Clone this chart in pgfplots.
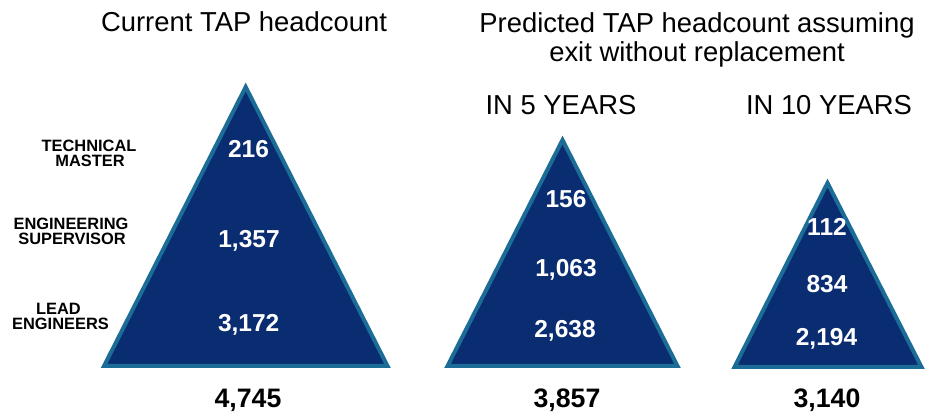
\documentclass[border=0pt]{standalone}
\usepackage{pgfplots}
\usepackage{pgfplotstable}
\usepackage{fontspec}
\setmainfont{Liberation Sans}
\pgfplotsset{compat=1.18}

\definecolor{navy}{RGB}{10,44,112}
\definecolor{edgeblue}{RGB}{27,109,151}

% x, y in picture pixels (y down), label shown at its baseline
\pgfplotstableread{
x y label
248.5 158 216
249 248 1,357
248.7 332 3,172
566 208 156
566 277 1,063
565 338 2,638
827 236 112
827 293 834
826.5 346 2,194
}\levels

\pgfplotstableread{
x y label
248 408 4,745
567 408 3,857
827 408 3,140
}\totals

\begin{document}
\begin{tikzpicture}
\begin{axis}[
    scale only axis,
    width=463.5pt, height=207.5pt,
    xmin=0, xmax=927, ymin=0, ymax=415,
    y dir=reverse,
    hide axis,
    clip=false,
]
% keep the whole canvas in the bounding box
\path (axis cs:0,0) rectangle (axis cs:927,415);

% triangles
\addplot[fill=navy, draw=edgeblue, line width=2pt, line join=miter]
    coordinates {(104,366)(245.7,87)(387.5,366)} -- cycle;
\addplot[fill=navy, draw=edgeblue, line width=2pt, line join=miter]
    coordinates {(447.5,366)(562.5,140)(677.5,366)} -- cycle;
\addplot[fill=navy, draw=edgeblue, line width=2pt, line join=miter]
    coordinates {(734.5,367)(827.5,183)(921.5,367)} -- cycle;

% numbers inside
\addplot[draw=none, mark=none, nodes near coords, point meta=explicit symbolic,
    nodes near coords style={anchor=base, inner sep=0pt, text=white,
        font=\fontsize{12.25}{14}\selectfont\bfseries}]
    table[x=x, y=y, meta=label] {\levels};

% totals
\addplot[draw=none, mark=none, nodes near coords, point meta=explicit symbolic,
    nodes near coords style={anchor=base, inner sep=0pt, text=black,
        font=\fontsize{13.35}{15}\selectfont\bfseries}]
    table[x=x, y=y, meta=label] {\totals};

% titles
\begin{scope}[every node/.style={anchor=base, inner sep=0pt, font=\fontsize{13.7}{15}\selectfont}]
\node at (axis cs:244,32) {Current TAP headcount};
\node at (axis cs:697,33) {Predicted TAP headcount assuming};
\node at (axis cs:697,62) {exit without replacement};
\node at (axis cs:561,115) {IN 5 YEARS};
\node at (axis cs:829,115) {IN 10 YEARS};
\end{scope}

% level names
\begin{scope}[every node/.style={anchor=base, inner sep=0pt, font=\fontsize{8.2}{9}\selectfont\bfseries}]
\node at (axis cs:89,152) {TECHNICAL};
\node at (axis cs:90,167) {MASTER};
\node at (axis cs:71,230) {ENGINEERING};
\node at (axis cs:72,245) {SUPERVISOR};
\node at (axis cs:58.5,315) {LEAD};
\node at (axis cs:60.5,330) {ENGINEERS};
\end{scope}
\end{axis}
\end{tikzpicture}
\end{document}
